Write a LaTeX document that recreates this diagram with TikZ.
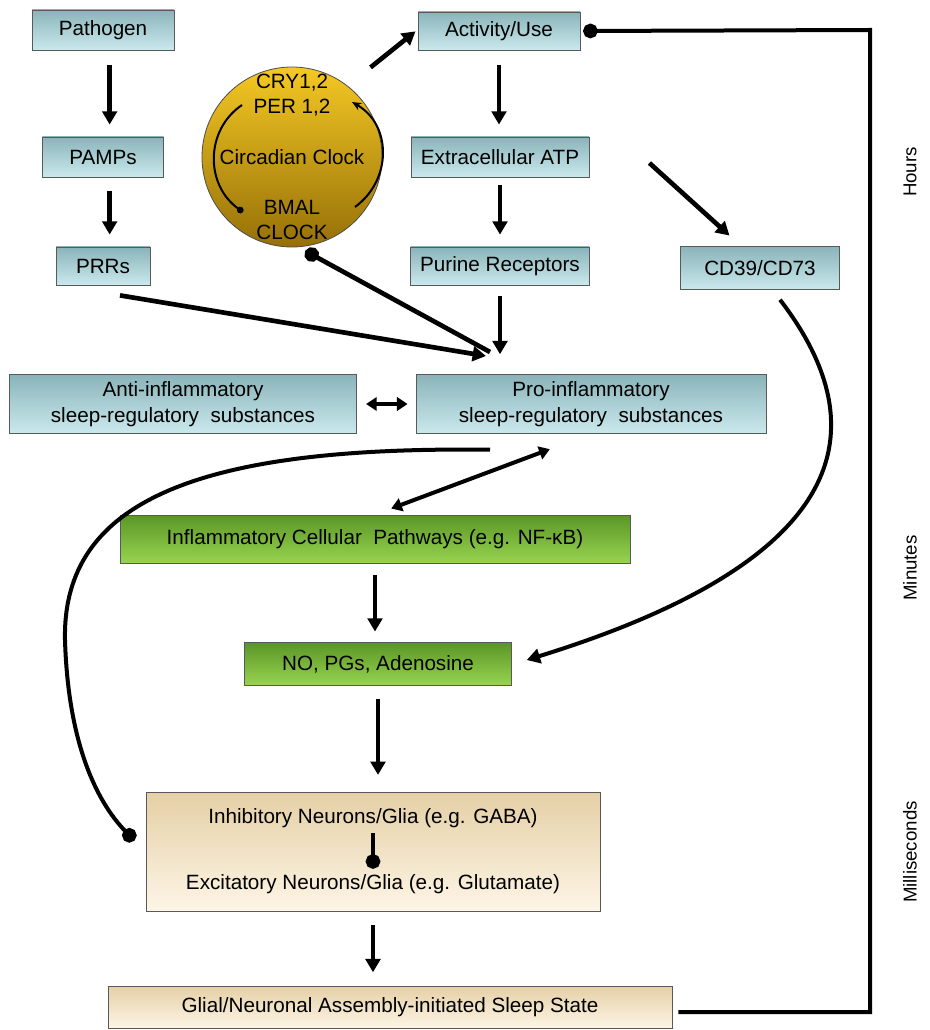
\documentclass[tikz,border=0pt]{standalone}
\usepackage{fontspec}
\setmainfont{Liberation Sans}
\usetikzlibrary{arrows.meta}
\usetikzlibrary{positioning}
\definecolor{bluetop}{RGB}{138,180,186}
\definecolor{bluebot}{RGB}{202,233,237}
\definecolor{greentop}{RGB}{90,150,38}
\definecolor{greenbot}{RGB}{152,212,80}
\definecolor{tantop}{RGB}{229,208,166}
\definecolor{tanbot}{RGB}{253,245,230}
\definecolor{goldtop}{RGB}{244,200,36}
\definecolor{goldbot}{RGB}{150,112,8}
\tikzstyle{box_base}=[rectangle, draw=gray!70!black, line width=0.6pt, inner sep=0pt, align=center,
    font=\fontsize{15.5}{19}\selectfont]
\tikzstyle{box_blue}=[box_base, top color=bluetop, bottom color=bluebot]
\tikzstyle{box_green}=[box_base, top color=greentop, bottom color=greenbot]
\tikzstyle{box_tan}=[box_base, top color=tantop, bottom color=tanbot]
\tikzstyle{txt}=[inner sep=0pt, align=center, font=\fontsize{15.5}{19}\selectfont]
\tikzstyle{scale_lbl}=[rotate=90, inner sep=0pt, font=\fontsize{14}{16}\selectfont]
\tikzstyle{arr_main}=[line width=3.5pt, -{Triangle[length=10pt,width=11pt]}]
\tikzstyle{arr_both}=[line width=3pt, {Triangle[length=8pt,width=10pt]}-{Triangle[length=8pt,width=10pt]}]
\tikzstyle{arr_ball}=[line width=3pt, -{Circle[length=11pt]}]
\tikzstyle{arr_thin}=[line width=1.5pt, -{Stealth[length=7pt,width=6pt]}]

\begin{document}
\begin{tikzpicture}[x=0.75pt,y=-0.75pt]
          \useasboundingbox (0,0) rectangle (929,1030);
          \node[box_blue, minimum width=106.5pt, minimum height=30pt] (pathogen) at (103,30){Pathogen};
          \node[box_blue, minimum width=91pt, minimum height=30pt] (pamps) at (103,157){PAMPs};
          \node[box_blue, minimum width=70.5pt, minimum height=28.5pt] (prrs) at (103,266){PRRs};
          \node[box_blue, minimum width=121.5pt, minimum height=28.5pt] (activity) at (499,31){Activity/Use};
          \node[box_blue, minimum width=133.5pt, minimum height=30pt] (extatp) at (500,157){Extracellular ATP};
          \node[box_blue, minimum width=134pt, minimum height=28.5pt] (purine) at (500,266){Purine Receptors};
          \node[box_blue, minimum width=119pt, minimum height=32pt] (cd39) at (760,268){CD39/CD73};
          \node[box_blue, minimum width=260pt, minimum height=44pt] (anti) at (183,404){Anti-inflammatory\\sleep-regulatory\ \ substances};
          \node[box_blue, minimum width=262.5pt, minimum height=44pt] (pro) at (591,404){Pro-inflammatory\\sleep-regulatory\ \ substances};
          \node[box_green, minimum width=382.5pt, minimum height=36pt] (inflam) at (375,539){Inflammatory Cellular\ \ Pathways (e.g. NF-κB)};
          \node[box_green, minimum width=200pt, minimum height=32pt] (no) at (378,664){NO, PGs, Adenosine};
          \node[box_tan, minimum width=340.5pt, minimum height=89pt] (inhib) at (373,852){};
          \node[txt] (inhibtxt) at (373,818){Inhibitory Neurons/Glia (e.g. GABA)};
          \node[txt] (excittxt) at (373,884){Excitatory Neurons/Glia (e.g. Glutamate)};
          \node[box_tan, minimum width=423pt, minimum height=31.5pt] (glial) at (390,1007){Glial/Neuronal Assembly-initiated Sleep State};
          \node[circle, inner sep=0pt, minimum size=135pt, draw=gray!60!black, line width=0.6pt,
                top color=goldtop, bottom color=goldbot] (clock) at (292,157){};
          \node[txt] (cryper) at (292,95){CRY1,2\\PER 1,2};
          \node[txt] (circtxt) at (292,157){Circadian Clock};
          \node[txt] (bmal) at (292,220){BMAL\\CLOCK};
          \node[scale_lbl] (hours) at (910,172){Hours};
          \node[scale_lbl] (minutes) at (910,568){Minutes};
          \node[scale_lbl] (millisec) at (910,852){Milliseconds};
          \coordinate (hub) at (486,356);
          \coordinate (fb_low) at (870,1012);
          \coordinate (fb_high) at (870,30);
          \draw[arr_thin] ([shift={(63,-13)}]bmal.center) .. controls +(37,-27) and +(40,23) .. ([shift={(60,7)}]cryper.center);
          \draw[line width=1.5pt, -{Circle[length=5pt]}] ([shift={(-50,10)}]cryper.center) .. controls +(-37,25) and +(-38,-27) .. ([shift={(-49,-8)}]bmal.center);
          \draw[arr_main, shorten <=11pt, shorten >=9pt]([xshift=5pt]pathogen.south) -- ([xshift=5pt]pamps.north);
          \draw[arr_main, shorten <=10pt, shorten >=9pt]([xshift=5pt]pamps.south) -- ([xshift=5pt]prrs.north);
          \draw[arr_main, shorten <=11pt, shorten >=9pt](activity.south) -- (activity.south |- extatp.north);
          \draw[arr_main, shorten <=6pt, shorten >=9pt](extatp.south) -- (extatp.south |- purine.north);
          \draw[arr_main, shorten <=8pt, shorten >=15pt](purine.south) -- (purine.south |- pro.north);
          \draw[arr_main, shorten <=22pt, shorten >=2pt](clock.52) -- ([yshift=1pt]activity.west);
          \draw[arr_main, shorten >=12pt]([shift={(60,6)}]extatp.east) -- ([xshift=-14pt]cd39.north);
          \draw[arr_main]([shift={(17,10)}]prrs.south) -- (hub);
          \draw[arr_ball, line width=3.5pt, shorten >=6pt]([shift={(4,-4)}]hub) -- (clock.-86);
          \draw[arr_both, line width=3.5pt, shorten <=7pt, shorten >=6pt](anti) -- (pro);
          \draw[arr_both, shorten <=33pt, shorten >=13pt](pro.south) -- (inflam.north);
          \draw[arr_main, shorten <=9pt, shorten >=8pt](inflam.south) -- (inflam.south |- no.north);
          \draw[arr_main, shorten <=10pt, shorten >=13pt](no.south) -- (no.south |- inhib.north);
          \draw[arr_main, shorten <=10pt, shorten >=10pt](inhib.south) -- (inhib.south |- glial.north);
          \draw[arr_ball, shorten <=4pt, shorten >=4pt](inhibtxt.south) -- (excittxt.north);
          \draw[arr_main, line width=3pt]([shift={(20,10)}]cd39.south) .. controls (880,430) and (850,560) .. ([shift={(15,-4)}]no.east);
          \draw[arr_ball, shorten >=12pt]([shift={(-101,16)}]pro.south) .. controls (200,446) and (62,500) .. (65,640)
                .. controls (68,740) and (95,800) .. (inhib.west);
          \draw[arr_ball, line join=miter, shorten >=2pt]([shift={(6,5)}]glial.east) -- (fb_low) -- (fb_high) -- (activity.east);
        \end{tikzpicture}
\end{document}
